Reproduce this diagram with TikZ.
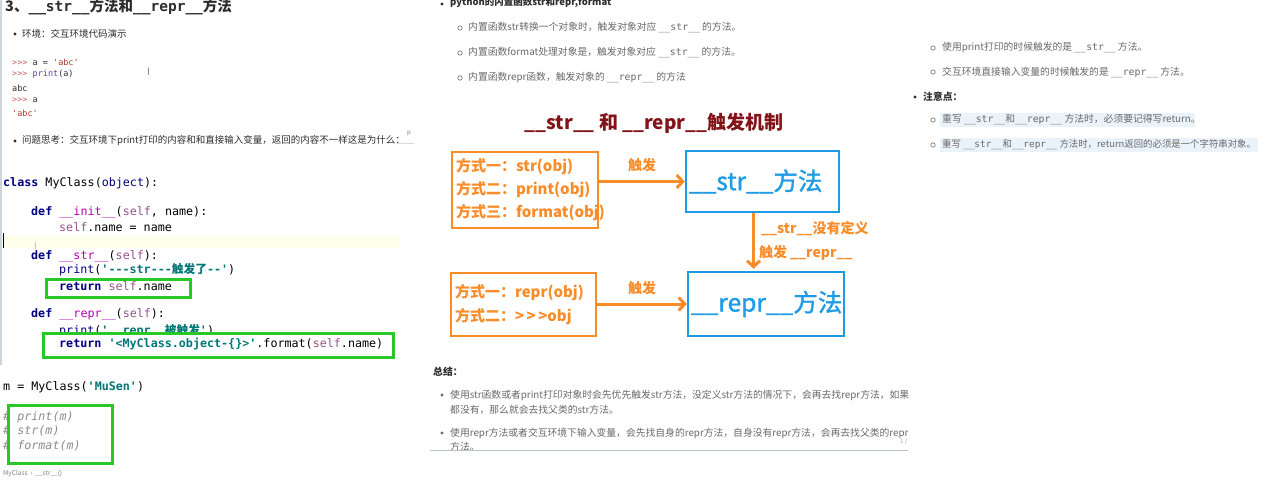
\documentclass[tikz,border=0pt]{standalone}
\usepackage{fontspec}
\setmainfont{Noto Sans CJK SC}
\setmonofont{DejaVu Sans Mono}
\newfontfamily\cjk{Noto Sans CJK SC}
\newfontfamily\cjkheavy[FakeBold=1.3]{Noto Sans CJK SC}
\usetikzlibrary{arrows.meta}

\definecolor{fgorange}{RGB}{250,140,40}
\definecolor{fgblue}{RGB}{30,155,230}
\definecolor{titlered}{RGB}{130,20,25}
\definecolor{boxgreen}{RGB}{40,200,40}
\definecolor{notegrey}{RGB}{105,105,105}
\definecolor{darktext}{RGB}{45,45,45}
\definecolor{kwnavy}{RGB}{0,0,128}
\definecolor{selfpurple}{RGB}{148,85,141}
\definecolor{strteal}{RGB}{0,118,118}
\definecolor{comgrey}{RGB}{140,140,140}
\definecolor{magic}{RGB}{178,0,178}
\definecolor{promptred}{RGB}{205,95,95}
\definecolor{abcred}{RGB}{170,55,40}
\definecolor{printpurple}{RGB}{90,60,170}
\definecolor{hlblue}{RGB}{234,242,250}
\definecolor{hlyellow}{RGB}{255,255,236}
\definecolor{rulegrey}{RGB}{185,195,205}

\newcommand\pykw[1]{\textcolor{kwnavy}{\bfseries #1}}
\newcommand\pyself[1]{\textcolor{selfpurple}{#1}}
\newcommand\pystr[1]{\textcolor{strteal}{\bfseries #1}}
\newcommand\mono[1]{{\ttfamily #1}}

\tikzset{
  txt/.style={inner sep=0pt, anchor=west},
  note/.style={txt, text=notegrey, font=\fontsize{9.8}{11}\selectfont},
  head/.style={txt, text=darktext, font=\bfseries\fontsize{9.8}{11}\selectfont},
  code/.style={txt, font=\ttfamily\fontsize{11.7}{14}\selectfont},
  shellcode/.style={txt, text=darktext, font=\ttfamily\fontsize{8.5}{10}\selectfont},
  comment/.style={txt, text=comgrey, font=\ttfamily\itshape\fontsize{11.7}{14}\selectfont},
  waybox/.style={draw=fgorange, line width=2.5pt, text=fgorange, align=left,
    inner xsep=4pt, inner ysep=0pt},
  methodbox/.style={draw=fgblue, line width=2.5pt, text=fgblue, align=left,
    inner xsep=3pt, inner ysep=0pt, font=\cjkheavy\fontsize{24.5}{28}\selectfont},
  trig/.style={draw=fgorange, line width=3pt, -{Straight Barb[length=6pt,width=13pt]}},
  triglabel/.style={text=fgorange, inner sep=0pt, font=\bfseries\fontsize{14}{16}\selectfont},
  greenbox/.style={draw=boxgreen, line width=3pt},
  dot/.style={fill=darktext},
  ring/.style={draw=notegrey, line width=0.6pt}
}

\begin{document}
\begin{tikzpicture}[x=1pt,y=-1pt]
  \useasboundingbox[fill=white] (0,0) rectangle (1265,486);

  % left: editor and shell
  \draw[rulegrey!70, line width=2pt] (1,0) -- (1,365);
  \node[txt, text=darktext, font=\bfseries\fontsize{14.5}{16}\selectfont] (pagetitle) at (5,7)
    {3、\mono{\_\_str\_\_}方法和\mono{\_\_repr\_\_}方法};
  \fill[dot] (15,34) circle (1.6);
  \node[txt, text=darktext, font=\fontsize{9.5}{11}\selectfont] (envline) at (22,34) {环境：交互环境代码演示};
  \node[shellcode] (sh1) at (12,62) {\textcolor{promptred}{>>>} a = \textcolor{abcred}{'abc'}};
  \node[shellcode] (sh2) at (12,74) {\textcolor{promptred}{>>>} \textcolor{printpurple}{print}(a)};
  \node[shellcode] (sh3) at (12,88) {abc};
  \node[shellcode] (sh4) at (12,100) {\textcolor{promptred}{>>>} a};
  \node[shellcode] (sh5) at (12,113) {\textcolor{abcred}{'abc'}};
  \node[txt, text=gray, font=\rmfamily\fontsize{10}{10}\selectfont] (beam) at (147,72) {I};
  \fill[dot] (15,141) circle (1.6);
  \node[txt, text=darktext, font=\fontsize{9.5}{11}\selectfont] (question) at (22,141)
    {问题思考：交互环境下print打印的内容和和直接输入变量，返回的内容不一样这是为什么：};
  \node[txt, text=gray, font=\fontsize{6}{6}\selectfont] (pmark) at (407,134) {p};
  \draw[rulegrey!60] (397,143) -- (414,143);

  \fill[hlyellow] (3,236) rectangle (400,248);
  \draw[line width=1pt] (3,233) -- (3,248);
  \node[code] (c1) at (3,183) {\pykw{class} MyClass(\textcolor{kwnavy}{object}):};
  \node[code] (c2) at (31,212) {\pykw{def} \textcolor{magic}{\_\_init\_\_}(\pyself{self}, name):};
  \node[code] (c3) at (59,227) {\pyself{self}.name = name};
  \node[txt, text=gray!60, font=\rmfamily\fontsize{9}{9}\selectfont] (beam2) at (34,246) {I};
  \node[code] (c4) at (31,256) {\pykw{def} \textcolor{magic}{\_\_str\_\_}(\pyself{self}):};
  \node[code] (c5) at (59,270) {\textcolor{kwnavy}{print}(\pystr{'---str---{\cjk 触发了}--'})};
  \node[code] (c6) at (59,286) {\pykw{return} \pyself{self}.name};
  \draw[greenbox] (46,279) rectangle (190,297);
  \node[code] (c7) at (31,314) {\pykw{def} \textcolor{magic}{\_\_repr\_\_}(\pyself{self}):};
  \node[code] (c8) at (59,331) {\textcolor{kwnavy}{print}(\pystr{'\_\_repr\_\_{\cjk 被触发}'})};
  \draw[greenbox, fill=white] (43,333) rectangle (393,357);
  \node[code] (c9) at (59,344) {\pykw{return} \pystr{'<MyClass.object-\{\}>'}.format(\pyself{self}.name)};
  \node[code] (c10) at (3,387) {m = MyClass(\pystr{'MuSen'})};
  \node[comment] (m1) at (3,417) {\# print(m)};
  \node[comment] (m2) at (3,431) {\# str(m)};
  \node[comment] (m3) at (3,446) {\# format(m)};
  \draw[greenbox] (8,405) rectangle (112,463);
  \node[txt, text=gray, font=\fontsize{6.5}{7}\selectfont] (crumb) at (3,474) {MyClass \ › \ \_\_str\_\_()};

  % middle: built-ins and the trigger chart
  \fill[dot] (442,4) circle (1.6);
  \node[head, font=\bfseries\fontsize{9.5}{11}\selectfont] (builtins) at (450,3) {python的内置函数str和repr,format};
  \draw[ring] (460,28) circle (2.2);
  \node[note] (b1) at (468,28) {内置函数str转换一个对象时，触发对象对应 \mono{\_\_str\_\_} 的方法。};
  \draw[ring] (460,53) circle (2.2);
  \node[note] (b2) at (468,53) {内置函数format处理对象是，触发对象对应 \mono{\_\_str\_\_} 的方法。};
  \draw[ring] (460,78) circle (2.2);
  \node[note] (b3) at (468,78) {内置函数repr函数，触发对象的 \mono{\_\_repr\_\_} 的方法};

  \node[text=titlered, inner sep=0pt, font=\bfseries\fontsize{19}{24}\selectfont] (charttitle) at (654,123)
    {\_\_str\_\_ 和 \_\_repr\_\_触发机制};
  \node[waybox, text width=138pt, minimum height=76pt, font=\bfseries\fontsize{15}{23}\selectfont]
    (strways) at (525,190) {方式一：str(obj)\\方式二：print(obj)\\方式三：format(obj)};
  \node[methodbox, text width=147pt, minimum height=61pt] (strm) at (762.5,181.5) {\_\_str\_\_方法};
  \node[waybox, text width=137pt, minimum height=63pt, font=\bfseries\fontsize{15}{24}\selectfont]
    (reprways) at (523.5,304.5) {方式一：repr(obj)\\方式二：{>}\,{>}\,{>}obj};
  \node[methodbox, text width=150pt, minimum height=64pt] (reprm) at (766,304) {\_\_repr\_\_方法};

  \draw[trig] (strm.west -| strways.east) -- (strm.west)
    node[triglabel, midway, above=8pt] {触发};
  \draw[trig] (reprm.west -| reprways.east) -- (reprm.west)
    node[triglabel, midway, above=8pt] {触发};
  \draw[trig] ([xshift=-9pt]strm.south) -- ([xshift=-9pt,yshift=2pt]strm.south |- reprm.north)
    node[triglabel, pos=0.28, anchor=west, xshift=6pt] {\_\_str\_\_没有定义}
    node[triglabel, pos=0.72, anchor=west, xshift=4pt] {触发 \_\_repr\_\_};

  \node[head] (summary) at (433,372) {总结：};
  \fill[notegrey] (442,395) circle (1.6);
  \node[note] (s1) at (450,395) {使用str函数或者print打印对象时会先优先触发str方法，没定义str方法的情况下，会再去找repr方法，如果};
  \node[note] (s1b) at (450,410) {都没有，那么就会去找父类的str方法。};
  \fill[notegrey] (442,433) circle (1.6);
  \node[note] (s2) at (450,433) {使用repr方法或者交互环境下输入变量，会先找自身的repr方法，自身没有repr方法，会再去找父类的repr};
  \node[note] (s2b) at (450,447) {方法。};
  \draw[rulegrey, line width=1pt] (430,450) -- (908,450);
  \node[txt, text=gray!70, font=\fontsize{6}{6}\selectfont] (pageno) at (900,442) {1 /};

  % right: what triggers what, and notes
  \draw[ring] (933,48) circle (2.2);
  \node[note] (r1) at (942,48) {使用print打印的时候触发的是 \mono{\_\_str\_\_} 方法。};
  \draw[ring] (933,72) circle (2.2);
  \node[note] (r2) at (942,72) {交互环境直接输入变量的时候触发的是 \mono{\_\_repr\_\_} 方法。};
  \fill[dot] (915,97) circle (1.6);
  \node[head] (caution) at (923,97) {注意点：};
  \fill[hlblue] (940,113) rectangle (1195,127);
  \fill[hlblue] (940,138) rectangle (1258,152);
  \draw[ring] (933,120) circle (2.2);
  \node[note] (n1) at (942,120) {重写 \mono{\_\_str\_\_}和\mono{\_\_repr\_\_} 方法时，必须要记得写return。};
  \draw[ring] (933,145) circle (2.2);
  \node[note, font=\fontsize{9.4}{11}\selectfont] (n2) at (942,145) {重写 \mono{\_\_str\_\_}和\mono{\_\_repr\_\_} 方法时，return返回的必须是一个字符串对象。};
\end{tikzpicture}
\end{document}
